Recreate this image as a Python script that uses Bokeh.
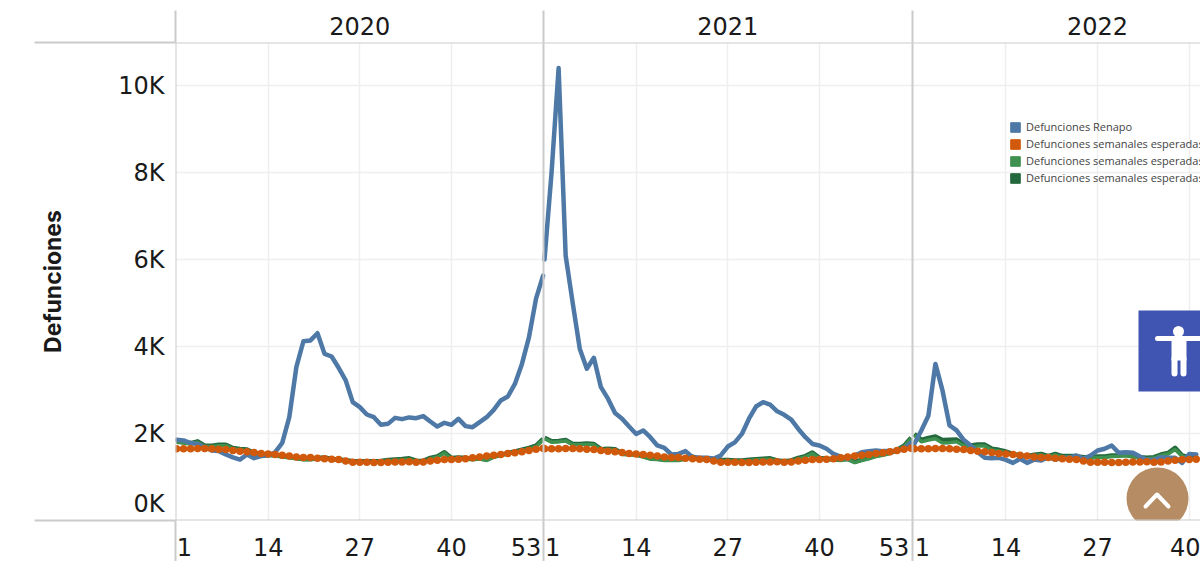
from bokeh.plotting import figure
from bokeh.embed import file_html
from bokeh.resources import INLINE
from bokeh.models import (FixedTicker, LinearAxis, BoxAnnotation, Legend, LegendItem, Label)

years = [2020, 2021, 2022]
year_offsets = [0, 52.2, 104.65]
tick_weeks = [1, 14, 27, 40, 53]
tick_shift_px = [8, 0, 0, 0, -17]
y_ticks = [0, 2000, 4000, 6000, 8000, 10000]
y_labels = ["0K", "2K", "4K", "6K", "8K", "10K"]
y_label_shift_px = [17, 0, 0, 0, 0, 0]
series_names = ["Defunciones Renapo", "Defunciones semanales esperadas",
                "Defunciones semanales esperadas", "Defunciones semanales esperadas"]

renapo_2020 = [1854,1840,1780,1760,1685,1610,1595,1517,1450,1400,1517,1433,1480,1495,1570,1785,2375,3525,4120,4140,4305,3830,3770,3510,3220,2720,2605,2437,2375,2200,2222,2360,2330,2370,2352,2400,2275,2160,2245,2200,2337,2170,2145,2260,2375,2544,2760,2850,3140,3600,4215,5100,5630]
renapo_2021 = [6000,8000,10400,6090,5000,3950,3490,3740,3065,2800,2470,2340,2160,1990,2070,1915,1725,1670,1517,1530,1595,1455,1440,1440,1425,1495,1700,1795,1990,2340,2620,2720,2665,2510,2430,2320,2105,1915,1760,1725,1650,1530,1470,1425,1490,1570,1595,1610,1595,1595,1595,1650,1790]
renapo_2022 = [1760,2070,2410,3600,2990,2185,2070,1855,1725,1570,1440,1433,1440,1395,1325,1420,1325,1400,1380,1455,1400,1440,1440,1495,1420,1495,1610,1650,1725,1555,1570,1555,1470,1395,1395,1455,1440,1440,1325,1530,1517]

esperadas_2020 = [1650,1650,1650,1655,1655,1650,1640,1630,1610,1590,1580,1565,1540,1530,1520,1500,1480,1460,1450,1450,1430,1420,1410,1400,1370,1340,1340,1340,1335,1335,1340,1345,1345,1350,1340,1345,1370,1385,1400,1400,1410,1420,1440,1460,1480,1500,1520,1540,1560,1580,1610,1640,1660]
esperadas_2021 = [1650,1650,1650,1655,1655,1650,1640,1630,1610,1590,1580,1565,1540,1530,1520,1500,1480,1460,1450,1450,1430,1420,1410,1400,1370,1340,1340,1340,1335,1335,1340,1345,1345,1350,1340,1345,1370,1385,1400,1400,1410,1420,1440,1460,1480,1500,1520,1540,1560,1580,1610,1640,1660]
esperadas_2022 = [1650,1650,1650,1655,1655,1650,1640,1630,1610,1590,1580,1565,1540,1530,1520,1500,1480,1460,1450,1450,1430,1420,1410,1400,1370,1340,1340,1340,1335,1335,1340,1345,1345,1350,1340,1345,1370,1385,1400,1400,1410]

verde_2020 = [1800,1780,1760,1800,1700,1700,1720,1720,1647,1625,1610,1530,1515,1495,1480,1460,1440,1420,1395,1395,1415,1430,1395,1380,1365,1340,1340,1340,1340,1350,1370,1385,1395,1410,1355,1350,1418,1455,1550,1415,1430,1415,1395,1415,1380,1455,1495,1530,1570,1610,1647,1700,1855]
verde_2021 = [1880,1800,1810,1830,1740,1740,1750,1740,1620,1630,1620,1520,1510,1500,1460,1410,1400,1380,1380,1380,1410,1450,1400,1400,1380,1370,1370,1360,1360,1375,1390,1400,1410,1360,1340,1360,1420,1460,1540,1420,1400,1390,1380,1400,1330,1380,1420,1470,1500,1540,1600,1700,1880]
verde_2022 = [1960,1810,1850,1880,1780,1790,1810,1720,1690,1710,1710,1620,1600,1560,1510,1480,1460,1490,1510,1460,1510,1460,1460,1460,1435,1435,1450,1450,1470,1475,1490,1460,1435,1420,1435,1497,1530,1630,1480,1430,1400]

verde_osc_2020 = [1820,1800,1780,1820,1720,1720,1740,1740,1667,1645,1630,1550,1535,1515,1500,1480,1460,1440,1415,1415,1435,1450,1415,1400,1385,1360,1360,1360,1360,1370,1390,1405,1415,1430,1375,1370,1438,1475,1570,1435,1450,1435,1415,1435,1400,1475,1515,1550,1590,1630,1667,1720,1875]
verde_osc_2021 = [1900,1820,1830,1850,1760,1760,1770,1760,1640,1650,1640,1540,1530,1520,1480,1430,1420,1400,1400,1400,1430,1470,1420,1420,1400,1390,1390,1380,1380,1395,1410,1420,1430,1380,1360,1380,1440,1480,1560,1440,1420,1410,1400,1420,1350,1400,1440,1490,1520,1560,1620,1720,1900]
verde_osc_2022 = [1990,1855,1900,1930,1850,1855,1860,1760,1725,1745,1745,1650,1625,1585,1530,1495,1480,1510,1530,1480,1530,1480,1480,1480,1455,1455,1470,1470,1495,1495,1510,1480,1455,1440,1455,1517,1550,1670,1495,1450,1420]

AZUL, NARANJA, VERDE, VERDE_OSC = "#4E79A7", "#D1590B", "#3F9150", "#24693D"
GRID, PANEL, FONT, INK = "#EFEFEF", "#CBCBCB", "DejaVu Sans", "#1a1a1a"

# page pixel -> data helpers (for the overlay buttons and panel rules only)
PX_W1, PX_WK, PX_Y0, PX_K = 176.0, 7.05, 520.0, 0.0435
def dx(px): return 1 + (px - PX_W1) / PX_WK
def dy(py): return (PX_Y0 - py) / PX_K

panel_rules = [dx(175.3), dx(543), dx(912)]
h_rules = [dy(519.7), dy(42.3)]

W, H = 1200, 561
p = figure(width=W, height=H, output_backend="svg", toolbar_location=None,
           x_range=(dx(175), dx(1200)), y_range=(0, dy(42)),
           min_border_left=175, min_border_right=0, min_border_top=42, min_border_bottom=41,
           background_fill_color="white", border_fill_color="white", outline_line_color=None)

# axes
grid_pos = [round(w + off, 3) for off in year_offsets for w in tick_weeks[1:4]]
label_pos, overrides = [], {}
for off in year_offsets:
    for w, s in zip(tick_weeks, tick_shift_px):
        if off == year_offsets[2] and w == 53:
            continue
        pos = round(w + off + s / PX_WK, 3)
        label_pos.append(pos)
        overrides[pos] = str(w)

BOTTOM_OUT, LEFT_OUT, TOP_OUT = 41, 141, 32

xa = p.xaxis[0]
xa.ticker = FixedTicker(ticks=label_pos, minor_ticks=panel_rules)
xa.major_label_overrides = overrides
xa.major_label_text_font = FONT
xa.major_label_text_font_size = "24px"
xa.major_label_text_color = INK
xa.major_label_standoff = 17 - BOTTOM_OUT
xa.axis_line_color = None
xa.major_tick_line_color = None
xa.minor_tick_line_color = PANEL
xa.minor_tick_line_width = 2
xa.minor_tick_in = 0
xa.minor_tick_out = BOTTOM_OUT

y_label_pos = [round(t + s / PX_K, 1) for t, s in zip(y_ticks, y_label_shift_px)]

ya = p.yaxis[0]
ya.ticker = FixedTicker(ticks=y_label_pos, minor_ticks=h_rules)
ya.major_label_overrides = dict(zip(y_label_pos, y_labels))
ya.major_label_text_font = FONT
ya.major_label_text_font_size = "24px"
ya.major_label_text_color = INK
ya.major_label_standoff = 11 - LEFT_OUT
ya.axis_line_color = None
ya.major_tick_line_color = None
ya.minor_tick_line_color = PANEL
ya.minor_tick_line_width = 2
ya.minor_tick_in = 0
ya.minor_tick_out = LEFT_OUT
ya.axis_label = "Defunciones"
ya.axis_label_text_font = "Inter"
ya.axis_label_text_font_size = "23px"
ya.axis_label_text_font_style = "bold"
ya.axis_label_text_color = INK
ya.axis_label_standoff = 48

top = LinearAxis(ticker=FixedTicker(ticks=[27 + o for o in year_offsets], minor_ticks=panel_rules),
                 major_label_overrides={27 + o: str(y) for o, y in zip(year_offsets, years)},
                 major_label_text_font=FONT, major_label_text_font_size="24px",
                 major_label_text_color=INK, major_label_standoff=8 - TOP_OUT,
                 axis_line_color=None, major_tick_line_color=None,
                 minor_tick_line_color=PANEL, minor_tick_line_width=2, minor_tick_in=0, minor_tick_out=TOP_OUT)
p.add_layout(top, "above")

p.xgrid[0].ticker = FixedTicker(ticks=grid_pos)
p.ygrid[0].ticker = FixedTicker(ticks=y_ticks)
p.xgrid[0].grid_line_color = GRID
p.ygrid[0].grid_line_color = GRID
p.xgrid[0].grid_line_width = 1.5
p.ygrid[0].grid_line_width = 1.5

# panel rules inside the frame
def rule(l, r, t, b):
    p.add_layout(BoxAnnotation(left=l, right=r, top=t, bottom=b,
                               left_units="canvas", right_units="canvas",
                               top_units="canvas", bottom_units="canvas",
                               fill_color=PANEL, fill_alpha=1, line_color=None, level="overlay"))
rule(34, 1200, 41, 43)
rule(34, 1200, 519, 521)
for xp in (174, 542, 911):
    rule(xp, xp + 2, 10, 561)

# series
def weeks(vals, off):
    return [i + 1 + off for i in range(len(vals))]

for vals, off in zip((verde_osc_2020, verde_osc_2021, verde_osc_2022), year_offsets):
    p.line(weeks(vals, off), vals, line_color=VERDE_OSC, line_width=4.5, line_join="round")
for vals, off in zip((verde_2020, verde_2021, verde_2022), year_offsets):
    p.line(weeks(vals, off), vals, line_color=VERDE, line_width=3.5, line_join="round")
for vals, off in zip((renapo_2020, renapo_2021, renapo_2022), year_offsets):
    p.line(weeks(vals, off), vals, line_color=AZUL, line_width=4.5, line_join="round", line_cap="round")
for vals, off in zip((esperadas_2020, esperadas_2021, esperadas_2022), year_offsets):
    p.line(weeks(vals, off), vals, line_color=NARANJA, line_width=3)
    p.scatter(weeks(vals, off), vals, size=7.5, marker="circle", fill_color=NARANJA, line_color=None)

# legend: swatches come from one off-range box per series
swatches = [p.quad(left=[-50], right=[-49], top=[1], bottom=[0], fill_color=c, line_color=c)
            for c in (AZUL, NARANJA, VERDE, VERDE_OSC)]
legend = Legend(items=[LegendItem(label=n, renderers=[r]) for n, r in zip(series_names, swatches)],
                location=(834, 335), orientation="vertical", spacing=2, padding=0, margin=0,
                glyph_width=12, glyph_height=12, label_height=11, label_standoff=5,
                label_text_font="Open Sans", label_text_font_size="11px", label_text_color="#444444",
                border_line_color=None, background_fill_alpha=0)
p.add_layout(legend, "center")

# page overlay buttons
p.quad(left=[dx(1138)], right=[dx(1201)], top=[dy(310)], bottom=[dy(391)], fill_color="#4054B2", line_color=None)
p.scatter([dx(1178)], [dy(331)], size=11, marker="circle", fill_color="white", line_color=None)
p.line([dx(1157), dx(1200)], [dy(338), dy(338)], line_color="white", line_width=5, line_cap="round")
p.quad(left=[dx(1171)], right=[dx(1186)], top=[dy(338)], bottom=[dy(360)], fill_color="white", line_color=None)
p.line([dx(1174), dx(1174)], [dy(358), dy(373)], line_color="white", line_width=6, line_cap="round")
p.line([dx(1183), dx(1183)], [dy(358), dy(373)], line_color="white", line_width=6, line_cap="round")
p.scatter([dx(1157)], [dy(498)], size=62, marker="circle", fill_color="#B58C63", line_color=None)
p.line([dx(1145), dx(1156.5), dx(1168)], [dy(506), dy(494), dy(506)], line_color="white", line_width=4, line_cap="round", line_join="round")

p.add_layout(Label(x=911, y=7, x_units="canvas", y_units="canvas", text="Año", text_align="center",
                   text_baseline="bottom", text_font="Inter", text_font_size="23px", text_font_style="bold",
                   text_color=INK))

open("out.html", "w").write(file_html(p, INLINE))
